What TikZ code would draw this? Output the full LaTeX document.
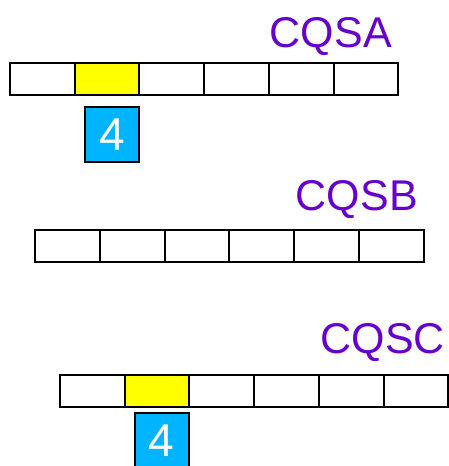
\documentclass[tikz,border=0pt]{standalone}
\usepackage{fontspec}
\setmainfont{Liberation Sans}
\definecolor{lbl}{HTML}{6600CC}
\definecolor{hi}{HTML}{FFFF00}
\definecolor{tok}{HTML}{00B4FF}
\tikzset{
  cell/.style={draw=black, line width=2pt, fill=white, minimum width=64.7pt, minimum height=32pt, inner sep=0pt, outer sep=0pt},
  hicell/.style={cell, fill=hi},
  token/.style={draw=black, line width=2pt, fill=tok, minimum width=54pt, minimum height=55pt, inner sep=0pt, text=white, font=\fontsize{46}{46}\selectfont},
  qlabel/.style={anchor=base east, inner sep=0pt, text=lbl, font=\fontsize{43}{43}\selectfont}
}
\begin{document}
\begin{tikzpicture}[x=1pt,y=-1pt]
\useasboundingbox (0,0) rectangle (448,466);
% row A
\foreach \i in {1,...,6} {
  \pgfmathsetmacro\cx{10+32.35+64.7*(\i-1)}
  \ifnum\i=2
    \node[hicell] (a\i) at (\cx,79) {};
  \else
    \node[cell] (a\i) at (\cx,79) {};
  \fi
}
\node[token] (ta) at (112,134.5) {4};
\node[qlabel] (la) at (392,47) {CQSA};
% row B
\foreach \i in {1,...,6} {
  \pgfmathsetmacro\cx{35+32.4+64.8*(\i-1)}
  \node[cell] (b\i) at (\cx,245.5) {};
}
\node[qlabel] (lb) at (418,210) {CQSB};
% row C
\foreach \i in {1,...,6} {
  \pgfmathsetmacro\cx{60+32.35+64.7*(\i-1)}
  \ifnum\i=2
    \node[hicell] (c\i) at (\cx,391) {};
  \else
    \node[cell] (c\i) at (\cx,391) {};
  \fi
}
\node[token] (tc) at (161.5,440.5) {4};
\node[qlabel] (lc) at (445,353) {CQSC};
\end{tikzpicture}
\end{document}
